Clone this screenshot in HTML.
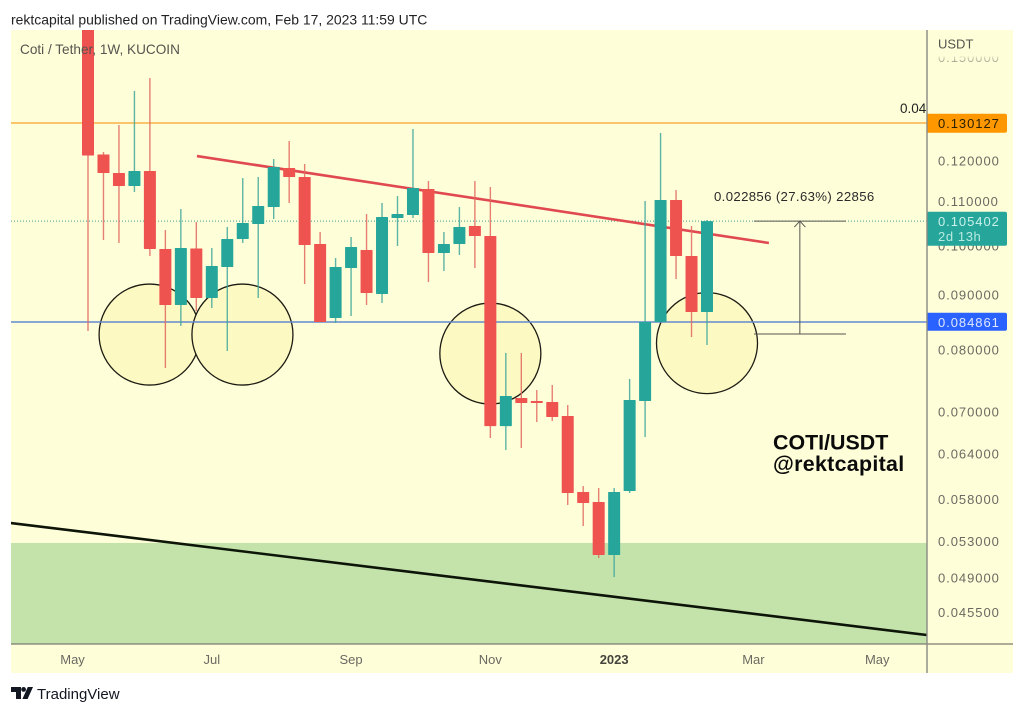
<!DOCTYPE html>
<html>
<head>
<meta charset="utf-8">
<title>COTI/USDT chart</title>
<style>
html,body{margin:0;padding:0;background:#fff;}
body{width:1024px;height:713px;overflow:hidden;font-family:"Liberation Sans",sans-serif;}
svg{display:block;}
text{font-family:"Liberation Sans",sans-serif;}
</style>
</head>
<body>
<svg id="chart" width="1024" height="713" viewBox="0 0 1024 713" xmlns="http://www.w3.org/2000/svg">
  <defs>
    <clipPath id="pane-clip"><rect x="11" y="30" width="916" height="614"/></clipPath>
    <clipPath id="axis-clip"><rect x="928" y="56.5" width="85" height="590"/></clipPath>
    <linearGradient id="top-fade" x1="0" y1="0" x2="0" y2="1">
      <stop offset="0" stop-color="#fefed9" stop-opacity="0.85"/>
      <stop offset="1" stop-color="#fefed9" stop-opacity="0.25"/>
    </linearGradient>
  </defs>
  <rect x="0" y="0" width="1024" height="713" fill="#ffffff"/>
  <text x="11" y="24.5" font-size="13.95" fill="#222">rektcapital published on TradingView.com, Feb 17, 2023 11:59 UTC</text>
  <rect x="11" y="30" width="916" height="614" fill="#fefed9"/>
  <rect x="11" y="644" width="916" height="29" fill="#fefed9"/>
  <rect x="927" y="30" width="86" height="643" fill="#fefed9"/>
  <g id="pane" clip-path="url(#pane-clip)"></g>
  <g id="price-axis"></g>
  <rect x="928" y="56" width="85" height="8" fill="url(#top-fade)"/>
  <g id="time-axis"></g>
  <line x1="11" y1="644" x2="1013" y2="644" stroke="#7b7b72" stroke-width="1.2"/>
  <line x1="927" y1="30" x2="927" y2="673" stroke="#8a8a84" stroke-width="1.4"/>
  <text x="20" y="54" font-size="13.6" fill="#55554f">Coti / Tether, 1W, KUCOIN</text>
  <text x="938" y="48.5" font-size="13" fill="#55554f">USDT</text>
  <text x="900" y="113" font-size="13.5" fill="#222">0.04</text>
  <text x="714" y="201" font-size="13.2" letter-spacing="0.35" fill="#2a2a2a">0.022856 (27.63%) 22856</text>
  <text x="773" y="449.5" font-size="21.4" font-weight="bold" fill="#0b0b0b">COTI/USDT</text>
  <text x="773" y="471" font-size="21.4" letter-spacing="0.3" font-weight="bold" fill="#0b0b0b">@rektcapital</text>
  <g fill="#131722">
    <path d="M11 687h10v12h-5v-7h-5z"/>
    <circle cx="23.6" cy="689.4" r="2.4"/>
    <path d="M27.8 687h5.2l-5.4 12h-5.2z"/>
  </g>
  <text x="37" y="699" font-size="15" fill="#131722">TradingView</text>
</svg>
<script>
// Weekly candles, Coti / Tether 1W
const weeks = ["2022-05-09","05-16","05-23","05-30","06-06","06-13","06-20","06-27","07-04","07-11","07-18","07-25","08-01","08-08","08-15","08-22","08-29","09-05","09-12","09-19","09-26","10-03","10-10","10-17","10-24","10-31","11-07","11-14","11-21","11-28","12-05","12-12","12-19","12-26","2023-01-02","01-09","01-16","01-23","01-30","02-06","02-13"];
const opens = [0.172,0.12160,0.11687,0.11365,0.11738,0.09927,0.08802,0.09938,0.08935,0.09550,0.10143,0.10474,0.10863,0.11814,0.11587,0.10034,0.08560,0.09530,0.09906,0.09012,0.10610,0.10678,0.11292,0.09842,0.10034,0.10429,0.10208,0.06786,0.07208,0.07162,0.07146,0.06934,0.05890,0.05765,0.05144,0.05902,0.07162,0.08486,0.11029,0.09778,0.08671];
const highs = [0.18,0.12226,0.12957,0.13939,0.14334,0.10340,0.10817,0.10520,0.09949,0.10407,0.11562,0.11587,0.12044,0.12519,0.11915,0.10296,0.09736,0.10186,0.10701,0.10958,0.11123,0.12846,0.11488,0.10296,0.10863,0.11488,0.11340,0.07940,0.07940,0.07333,0.07412,0.07100,0.05966,0.05940,0.05940,0.07508,0.11005,0.12735,0.11268,0.10429,0.10565];
const lows = [0.08324,0.10121,0.10056,0.11220,0.09778,0.07688,0.08414,0.08689,0.08745,0.07974,0.10056,0.08935,0.10588,0.10958,0.09207,0.08486,0.08468,0.08596,0.08802,0.08840,0.09991,0.10610,0.09247,0.09469,0.09800,0.09530,0.06614,0.06446,0.06474,0.06845,0.06860,0.05728,0.05475,0.05111,0.04906,0.05877,0.06628,0.08486,0.09307,0.08216,0.08077];
const closes = [0.12134,0.11687,0.11365,0.11738,0.09927,0.08802,0.09949,0.08935,0.09570,0.10143,0.10497,0.10887,0.11839,0.11587,0.10012,0.08486,0.09550,0.09970,0.09031,0.10633,0.10701,0.11316,0.09842,0.10034,0.10407,0.10208,0.06786,0.07239,0.07131,0.07131,0.06919,0.05877,0.05753,0.05144,0.05890,0.07177,0.08486,0.11029,0.09778,0.08671,0.10540];
const priceTicks = [0.15,0.12,0.11,0.10,0.09,0.08,0.07,0.064,0.058,0.053,0.049,0.0455];
const timeTickLabels = ["May","Jul","Sep","Nov","2023","Mar","May"];
const timeTickWeeks = [-1,8,17,26,34,43,51];
const resistanceLevel = 0.130127;
const supportLevel = 0.084861;
const lastPrice = 0.105402;
const zoneTopPrice = 0.05279;
const circleWeeks = [3.98,9.98,26,40];
const circlePrices = [0.0826,0.0826,0.0793,0.0811];
const trendWeeks = [7.04,44.0];
const trendPrices = [0.1212,0.10056];
const baseWeeks = [-4.98,54.2];
const basePrices = [0.0551,0.04332];
const measureWeeks = [43.04,48.98];
const measureMidWeek = 46;
const measureFromPrice = 0.0827;

const NS = 'http://www.w3.org/2000/svg';
function xOf(week){ return 88 + 15.475 * week; }
function yOf(price){ return 123 + 465.5 * Math.log(0.130127 / price); }
function make(tag, parent, attrs){
  const el = document.createElementNS(NS, tag);
  for (const k in attrs) el.setAttribute(k, attrs[k]);
  parent.appendChild(el);
  return el;
}
const pane = document.getElementById('pane');
const priceAxis = document.getElementById('price-axis');
const timeAxis = document.getElementById('time-axis');

// Green demand zone
const zone = make('rect', pane, {x:11, y:yOf(zoneTopPrice), width:916, height:644-yOf(zoneTopPrice), fill:'#c3e3ab'});



// Circles
circleWeeks.forEach(function(w, i){
  const c = make('circle', pane, {cx:xOf(w), cy:yOf(circlePrices[i]), r:50.5, fill:'#fdf9c2', stroke:'#1c1c14', 'stroke-width':1.3});
  
  
});

// Horizontal levels
const resLine = make('line', pane, {x1:11, x2:927, y1:yOf(resistanceLevel), y2:yOf(resistanceLevel), stroke:'#f6a22a', 'stroke-width':1.3});


const supLine = make('line', pane, {x1:11, x2:927, y1:yOf(supportLevel), y2:yOf(supportLevel), stroke:'#6488cf', 'stroke-width':1.4});


const lastLine = make('line', pane, {x1:11, x2:927, y1:yOf(lastPrice), y2:yOf(lastPrice), stroke:'#3f9d92', 'stroke-width':1, 'stroke-dasharray':'1 2'});



// Black long-term trendline
const baseLine = make('line', pane, {x1:xOf(baseWeeks[0]), y1:yOf(basePrices[0]), x2:xOf(baseWeeks[1]), y2:yOf(basePrices[1]), stroke:'#0d1408', 'stroke-width':2.6});



// Red trendline
const trend = make('line', pane, {x1:xOf(trendWeeks[0]), y1:yOf(trendPrices[0]), x2:xOf(trendWeeks[1]), y2:yOf(trendPrices[1]), stroke:'#e0494f', 'stroke-width':2.6});



// Candles
weeks.forEach(function(week, i){
  const up = closes[i] >= opens[i];
  const x = xOf(i);
  const top = yOf(Math.max(opens[i], closes[i]));
  const bottom = yOf(Math.min(opens[i], closes[i]));
  const wick = make('line', pane, {x1:x, x2:x, y1:yOf(highs[i]), y2:yOf(lows[i]), stroke: up ? '#3fa79b' : '#e2685f', 'stroke-width':1.4, 'stroke-opacity':0.85});
  
  
  const body = make('rect', pane, {x:x-6, y:top, width:12, height:Math.max(bottom-top,1.5), rx:0.6, fill: up ? '#26a69a' : '#ef5350'});
  
  
});

// Measure tool
const measureColor = '#55564f';
const mTop = make('line', pane, {x1:xOf(measureWeeks[0]), x2:xOf(measureWeeks[1]), y1:yOf(lastPrice), y2:yOf(lastPrice), stroke:measureColor, 'stroke-width':1});


const mBottom = make('line', pane, {x1:xOf(measureWeeks[0]), x2:xOf(measureWeeks[1]), y1:yOf(measureFromPrice), y2:yOf(measureFromPrice), stroke:measureColor, 'stroke-width':1});


const mx = xOf(measureMidWeek), my = yOf(lastPrice);
const mArrow = make('line', pane, {x1:mx, x2:mx, y1:yOf(measureFromPrice), y2:my, stroke:measureColor, 'stroke-width':1});


const mHead = make('path', pane, {d:'M'+(mx-5.5)+' '+(my+6)+'L'+mx+' '+my+'L'+(mx+5.5)+' '+(my+6), fill:'none', stroke:measureColor, 'stroke-width':1});



// Price ticks
priceTicks.forEach(function(p){
  const t = make('text', priceAxis, {x:938, y:yOf(p)+5, 'font-size':13, 'letter-spacing':0.95, fill:'#6a6a62', 'clip-path':'url(#axis-clip)'});
  t.textContent = p.toFixed(6);
  
  
});

// Price badges
function badge(price, h, fill, textFill, name){
  const y = yOf(price);
  const r = make('path', priceAxis, {d:'M927 '+(y-9.3)+'H1005a2 2 0 0 1 2 2V'+(y-9.3+h-2)+'a2 2 0 0 1 -2 2H927Z', fill:fill});
  
  
  const t = make('text', priceAxis, {x:938, y:y+4.8, 'font-size':13, 'letter-spacing':0.95, fill:textFill});
  t.textContent = price.toFixed(6);
  
  
  return y;
}
badge(resistanceLevel, 19, '#ff9800', '#2b2000', 'resistance');
const lastY = badge(lastPrice, 34, '#26a69a', '#c9f1ea', 'last-price');
badge(supportLevel, 18, '#2962ff', '#dfe8ff', 'support');
const countdown = make('text', priceAxis, {x:938, y:lastY+20, 'font-size':13, 'letter-spacing':0.6, fill:'#b9e9e1'});
countdown.textContent = '2d 13h';



// Time ticks
timeTickLabels.forEach(function(label, i){
  const bold = label === '2023';
  const t = make('text', timeAxis, {x:xOf(timeTickWeeks[i]), y:664, 'font-size':13, 'text-anchor':'middle', 'font-weight':bold ? 'bold' : 'normal', fill: bold ? '#44443e' : '#6a6a62'});
  t.textContent = label;
  
  
});
</script>
</body>
</html>
